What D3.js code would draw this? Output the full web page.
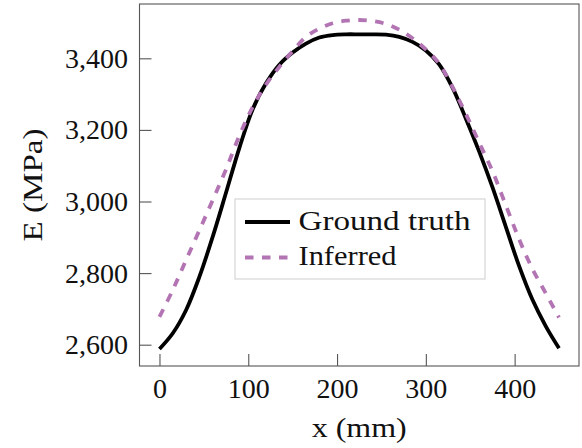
<!DOCTYPE html>
<html>
<head>
<meta charset="utf-8">
<script src="https://cdn.jsdelivr.net/npm/d3@7"></script>
<style>
  body { margin: 0; background: #fff; }
  text { font-family: "Liberation Serif", "Times New Roman", serif; fill: #111; }
</style>
</head>
<body>
<div id="chart"></div>
<script>
// positions along the specimen (mm)
const positions = [0, 15, 30, 45, 60, 75, 90, 105, 120, 135, 150, 165, 180, 195, 210, 225,
  240, 255, 270, 285, 300, 315, 330, 345, 360, 375, 390, 405, 420, 435, 450];

// Young's modulus (MPa)
const groundTruth = [2588, 2632, 2697, 2790, 2902, 3025, 3150, 3258, 3330, 3382, 3416, 3441, 3458, 3465, 3467, 3467,
  3467, 3466, 3460, 3446, 3422, 3383, 3318, 3232, 3140, 3040, 2930, 2820, 2726, 2652, 2590];
const inferred = [2678, 2753, 2837, 2920, 3004, 3090, 3184, 3264, 3327, 3376, 3420, 3460, 3483, 3498, 3505, 3507,
  3504, 3496, 3480, 3456, 3425, 3385, 3320, 3245, 3165, 3085, 2990, 2895, 2812, 2744, 2676];

const xTicks = [0, 100, 200, 300, 400];
const yTicks = [2600, 2800, 3000, 3200, 3400];

const seriesNames = ['Ground truth', 'Inferred'];

let width = 582, height = 448;
let box = { left: 139.5, right: 579, top: 4, bottom: 366 };

let svg = d3.select('#chart')
  .append('svg')
  .attr('width', width)
  .attr('height', height);

let x = d3.scaleLinear()
  .domain([-22.5, 472.5])
  .range([box.left, box.right]);
let y = d3.scaleLinear()
  .domain([2540.5, 3551.7])
  .range([box.bottom, box.top]);

// axes, ticks pointing inward
let xAxis = svg.append('g')
  .attr('transform', 'translate(0,' + box.bottom + ')')
  .call(d3.axisBottom(x).tickValues(xTicks).tickSize(-12).tickPadding(12));
let yAxis = svg.append('g')
  .attr('transform', 'translate(' + box.left + ',0)')
  .call(d3.axisLeft(y).tickValues(yTicks).tickFormat(d3.format(',')).tickSize(-12).tickPadding(11.5));

[xAxis, yAxis].forEach(a => {
  a.select('.domain').remove();
  a.selectAll('line').attr('stroke', '#555').attr('stroke-width', 1.1);
  a.selectAll('text')
    .style('font-family', '"Liberation Serif", serif')
    .style('font-size', '28px')
    .attr('fill', '#111');
});

let line = d3.line()
  .x((d, i) => x(positions[i]))
  .y(d => y(d))
  .curve(d3.curveCatmullRom.alpha(0.5));

svg.append('path')
  .datum(groundTruth)
  .attr('d', line)
  .attr('fill', 'none')
  .attr('stroke', '#000')
  .attr('stroke-width', 3.8);

svg.append('path')
  .datum(inferred)
  .attr('d', line)
  .attr('fill', 'none')
  .attr('stroke', '#b374b3')
  .attr('stroke-width', 3.8)
  .attr('stroke-dasharray', '8.5,8.5');

// frame
svg.append('rect')
  .attr('x', box.left)
  .attr('y', box.top)
  .attr('width', box.right - box.left)
  .attr('height', box.bottom - box.top)
  .attr('fill', 'none')
  .attr('stroke', '#555')
  .attr('stroke-width', 1.1);

// axis labels
svg.append('text')
  .attr('x', (box.left + box.right) / 2)
  .attr('y', 437)
  .attr('text-anchor', 'middle')
  .attr('textLength', 95)
  .attr('lengthAdjust', 'spacingAndGlyphs')
  .style('font-size', '28px')
  .text('x (mm)');

svg.append('text')
  .attr('transform', 'translate(42,' + ((box.top + box.bottom) / 2) + ') rotate(-90)')
  .attr('text-anchor', 'middle')
  .attr('textLength', 113)
  .attr('lengthAdjust', 'spacingAndGlyphs')
  .style('font-size', '28px')
  .text('E (MPa)');

// legend
let legend = svg.append('g');
legend.append('rect')
  .attr('x', 235).attr('y', 199)
  .attr('width', 250).attr('height', 80)
  .attr('fill', '#fff')
  .attr('stroke', '#d6d6d6')
  .attr('stroke-width', 1.2);

let legendRows = [
  { name: seriesNames[0], color: '#000', dash: null, y: 222, len: 172 },
  { name: seriesNames[1], color: '#b374b3', dash: '8.5,8.5', y: 257.5, len: 98 }
];
legendRows.forEach(r => {
  legend.append('line')
    .attr('x1', 245).attr('x2', 290)
    .attr('y1', r.y).attr('y2', r.y)
    .attr('stroke', r.color)
    .attr('stroke-width', 3.8)
    .attr('stroke-dasharray', r.dash);
  legend.append('text')
    .attr('x', 298.5)
    .attr('y', r.y + 7.5)
    .attr('textLength', r.len)
    .attr('lengthAdjust', 'spacingAndGlyphs')
    .style('font-size', '28px')
    .text(r.name);
});
</script>
</body>
</html>
